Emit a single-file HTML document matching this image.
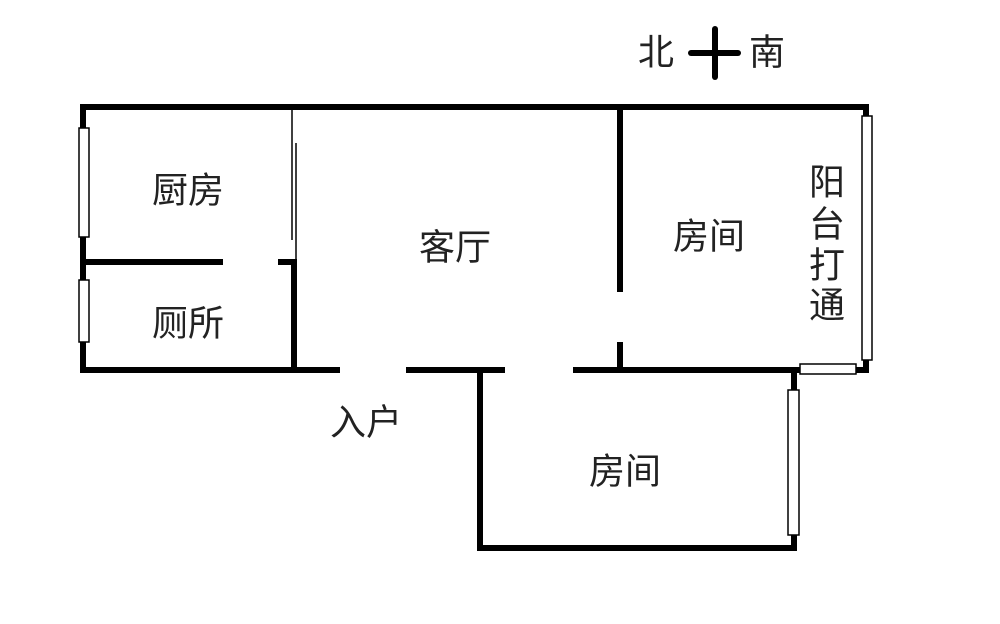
<!DOCTYPE html>
<html><head><meta charset="utf-8"><style>
body{margin:0;background:#fff;width:1000px;height:619px;overflow:hidden}
svg text{font-family:"Liberation Sans","Noto Sans CJK SC",sans-serif;font-size:36px;fill:#222;text-anchor:middle;dominant-baseline:central}
</style></head><body>
<svg width="1000" height="619" viewBox="0 0 1000 619">
<g stroke="#000" stroke-width="6" fill="none" stroke-linecap="square">
<line x1="83" y1="107" x2="866" y2="107"/>
<line x1="83" y1="107" x2="83" y2="370"/>
<line x1="866" y1="107" x2="866" y2="370"/>
<line x1="83" y1="370" x2="337" y2="370"/>
<line x1="409" y1="370" x2="502" y2="370"/>
<line x1="576" y1="370" x2="866" y2="370"/>
<line x1="83" y1="262" x2="220" y2="262"/>
<line x1="281" y1="262" x2="294" y2="262"/>
<line x1="294" y1="262" x2="294" y2="370"/>
<line x1="620" y1="107" x2="620" y2="289"/>
<line x1="620" y1="345" x2="620" y2="370"/>
<line x1="480" y1="370" x2="480" y2="548"/>
<line x1="480" y1="548" x2="794" y2="548"/>
<line x1="794" y1="370" x2="794" y2="548"/>
<line x1="715" y1="29" x2="715" y2="77" stroke-linecap="round"/>
<line x1="691" y1="53" x2="738" y2="53" stroke-linecap="round"/>
</g>
<g stroke="#000" stroke-width="1.5" fill="#fff">
<rect x="79" y="128" width="10" height="109"/>
<rect x="79" y="280" width="10" height="62"/>
<rect x="862" y="116" width="10" height="244"/>
<rect x="800" y="364" width="56" height="10"/>
<rect x="788" y="390" width="11" height="145"/>
</g>
<g stroke="#000" stroke-width="1.5">
<line x1="292" y1="108" x2="292" y2="240"/>
<line x1="296" y1="143" x2="296" y2="262"/>
</g>
<text x="188" y="190">厨房</text>
<text x="188" y="323">厕所</text>
<text x="455" y="247">客厅</text>
<text x="709" y="236">房间</text>
<g style="font-size:38px">
<text x="827" y="182">阳</text>
<text x="827" y="224">台</text>
<text x="827" y="265">打</text>
<text x="827" y="305">通</text>
</g>
<text x="366" y="422">入户</text>
<text x="625" y="471">房间</text>
<text x="656" y="52">北</text>
<text x="767" y="52">南</text>
</svg>
</body></html>
